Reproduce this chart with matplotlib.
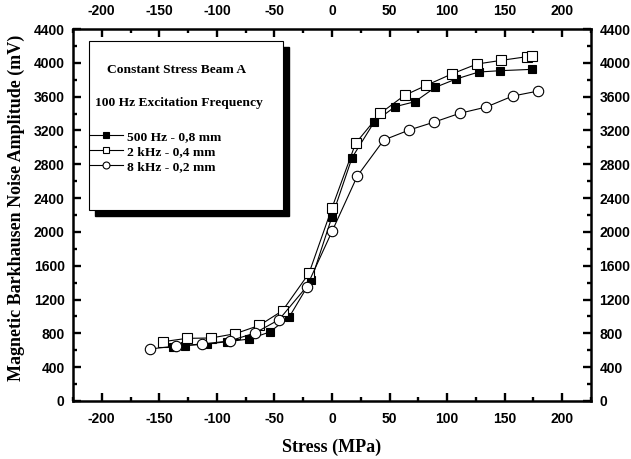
import numpy as np
import matplotlib
matplotlib.use('Agg')
import matplotlib.pyplot as plt
from matplotlib.patches import Rectangle
from matplotlib.ticker import MultipleLocator

# 500 Hz - 0,8 mm (filled squares)
stress_500 = [-138, -128, -109, -91, -72, -54, -37, -18, 0, 17.5, 36.5, 54.7, 72, 89.7, 107.7, 127.4, 146, 174]
mbn_500 = [642, 654, 674, 701, 733, 816, 997, 1431, 2180, 2880, 3296, 3481, 3540, 3710, 3808, 3891, 3907, 3923]

# 2 kHz - 0,4 mm (open squares)
stress_2k = [-147, -126, -105, -84, -63, -43, -20, 0, 20.5, 42, 63, 82, 104, 126, 147, 169, 174]
mbn_2k = [701, 741, 745, 796, 895, 1068, 1510, 2285, 3048, 3403, 3615, 3734, 3868, 3986, 4029, 4072, 4084]

# 8 kHz - 0,2 mm (open circles)
stress_8k = [-158, -135.5, -113, -89, -67, -46, -22, 0, 22, 45, 67, 89, 111, 134, 157, 179]
mbn_8k = [615, 650, 674, 710, 804, 962, 1352, 2005, 2661, 3087, 3205, 3300, 3403, 3477, 3607, 3666]

# tick labels: bold sans, plain hyphen minus
plt.rcParams['font.family'] = 'Liberation Sans'
plt.rcParams['font.weight'] = 'bold'
plt.rcParams['axes.unicode_minus'] = False
serif = {'family': 'Liberation Serif', 'weight': 'bold'}

fig = plt.figure(figsize=(6.31, 4.59), dpi=100)
ax = fig.add_axes([0.1157, 0.1264, 0.8209, 0.8104])

ax.plot(stress_500, mbn_500, '-', color='black', lw=0.8, marker='s', ms=6,
        mfc='black', mec='black', mew=0.8, label='500 Hz - 0,8 mm', zorder=3)
ax.plot(stress_2k, mbn_2k, '-', color='black', lw=0.8, marker='s', ms=6.5,
        mfc='white', mec='black', mew=0.8, label='2 kHz - 0,4 mm', zorder=3)
ax.plot(stress_8k, mbn_8k, '-', color='black', lw=0.8, marker='o', ms=7.5,
        mfc='white', mec='black', mew=0.8, label='8 kHz - 0,2 mm', zorder=3)

ax.set_xlim(-225, 225)
ax.set_ylim(0, 4400)
ax.xaxis.set_major_locator(MultipleLocator(50))
ax.xaxis.set_minor_locator(MultipleLocator(25))
ax.yaxis.set_major_locator(MultipleLocator(400))
ax.yaxis.set_minor_locator(MultipleLocator(200))
ax.tick_params(which='both', direction='in', top=True, right=True,
               labeltop=True, labelright=True, width=1.7)
ax.tick_params(which='major', length=6, labelsize=10)
ax.tick_params(axis='x', which='major', pad=8)
ax.tick_params(axis='y', which='major', pad=6)
ax.tick_params(which='minor', length=3)
for s in ax.spines.values():
    s.set_linewidth(1.8)

ax.set_xlabel('Stress (MPa)', fontdict=serif, fontsize=13, labelpad=9)
ax.set_ylabel('Magnetic Barkhausen Noise Amplitude (mV)', fontdict=serif, fontsize=13)
ax.yaxis.set_label_coords(-0.093, 0.52)

# legend box with shadow
ax.add_patch(Rectangle((0.031 + 0.0116, 0.513 - 0.016), 0.375, 0.455, transform=ax.transAxes,
                       facecolor='black', edgecolor='black', zorder=4))
ax.add_patch(Rectangle((0.031, 0.513), 0.375, 0.455, transform=ax.transAxes,
                       facecolor='white', edgecolor='black', lw=0.8, zorder=5))
ax.text(0.200, 0.890, 'Constant Stress Beam A', transform=ax.transAxes, ha='center', va='center',
        fontdict=serif, fontsize=9.7, zorder=6)
ax.text(0.205, 0.801, '100 Hz Excitation Frequency', transform=ax.transAxes, ha='center', va='center',
        fontdict=serif, fontsize=9.7, zorder=6)
leg = ax.legend(loc='upper left', bbox_to_anchor=(0.022, 0.742), frameon=False,
                prop={'family': 'Liberation Serif', 'weight': 'bold', 'size': 9.7},
                handlelength=2.45, handletextpad=0.3, labelspacing=0.2, borderaxespad=0)
leg.set_zorder(7)
for h in leg.legend_handles:
    h.set_markersize(5)

fig.savefig('out.png', dpi=100)
